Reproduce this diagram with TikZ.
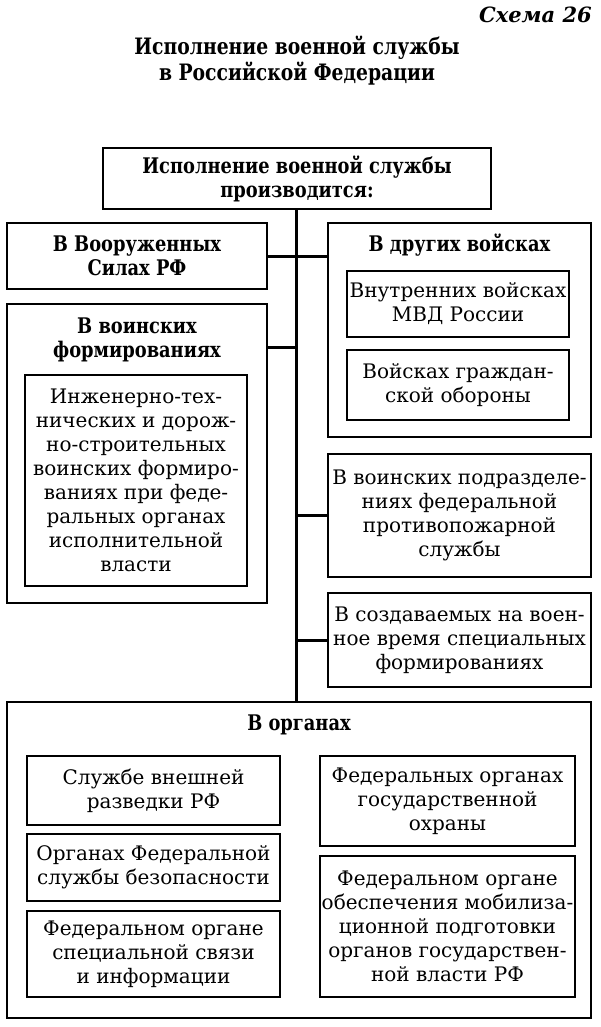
\documentclass[tikz,border=0pt]{standalone}
\usepackage{fontspec}
\setmainfont[BoldFeatures={FakeStretch=0.83}]{DejaVu Serif}
\begin{document}
\begin{tikzpicture}[x=1pt,y=-1pt,
  txt/.style={font=\fontsize{20}{24}\selectfont},
  btxt/.style={font=\fontsize{21.5}{24}\selectfont\bfseries},
  inbox/.style={draw, line width=1.3pt, inner sep=0pt, align=center, txt},
  outbox/.style={draw, line width=2pt, inner sep=0pt, align=center},
  head/.style={align=center, inner sep=0pt, btxt},
  link/.style={line width=3pt}]
\useasboundingbox (0,0) rectangle (600,1027);
% titles
\node[anchor=east, inner sep=0pt, font=\fontsize{21}{24}\selectfont\bfseries\itshape] (schema) at (592,15) {Схема 26};
\node[align=center, inner sep=0pt, font=\fontsize{22.6}{26}\selectfont\bfseries] (title) at (297,61) {Исполнение военной службы\\в Российской Федерации};
% top
\node[outbox, btxt, minimum width=388pt, minimum height=61pt] (top) at (297,178.5) {Исполнение военной службы\\производится:};
% left column
\node[outbox, btxt, minimum width=260pt, minimum height=66pt] (vs) at (137,256) {В Вооруженных\\Силах РФ};
\node[outbox, minimum width=260pt, minimum height=299pt] (vf) at (137,453.5) {};
\node[head] (vfh) at (137,340) {В воинских\\формированиях};
\node[inbox, minimum width=222pt, minimum height=211pt] (ing) at (136,480.5) {Инженерно-тех-\\нических и дорож-\\но-строительных\\воинских формиро-\\ваниях при феде-\\ральных органах\\исполнительной\\власти};
% right column
\node[outbox, minimum width=263pt, minimum height=214pt] (dr) at (459.5,330) {};
\node[head] (drh) at (459.5,245) {В других войсках};
\node[inbox, minimum width=222pt, minimum height=66pt] (mvd) at (458,304) {Внутренних войсках\\МВД России};
\node[inbox, minimum width=222pt, minimum height=70pt] (go) at (458,385) {Войсках граждан-\\ской обороны};
\node[outbox, txt, minimum width=263pt, minimum height=123pt] (pod) at (459.5,515.5) {В воинских подразделе-\\ниях федеральной\\противопожарной\\службы};
\node[outbox, txt, minimum width=263pt, minimum height=94pt] (soz) at (459.5,640) {В создаваемых на воен-\\ное время специальных\\формированиях};
% bottom
\node[outbox, minimum width=584pt, minimum height=316pt] (org) at (299,860) {};
\node[head] (orgh) at (299,725) {В органах};
\node[inbox, minimum width=253pt, minimum height=69pt] (svr) at (153.5,790.5) {Службе внешней\\разведки РФ};
\node[inbox, minimum width=253pt, minimum height=67pt] (fsb) at (153.5,867.5) {Органах Федеральной\\службы безопасности};
\node[inbox, minimum width=253pt, minimum height=86pt] (spec) at (153.5,954) {Федеральном органе\\специальной связи\\и информации};
\node[inbox, minimum width=255pt, minimum height=90pt] (fso) at (447.5,801) {Федеральных органах\\государственной\\охраны};
\node[inbox, minimum width=255pt, minimum height=141pt] (mob) at (447.5,926.5) {Федеральном органе\\обеспечения мобилиза-\\ционной подготовки\\органов государствен-\\ной власти РФ};
% connectors
\coordinate (tr) at (296,209);
\coordinate (vfc) at (267,347);
\draw[link] (tr) -- (tr |- org.north);
\draw[link] (vs.east) -- (vs.east -| dr.west);
\draw[link] (vfc) -- (vfc -| tr);
\draw[link] (pod.west) -- (pod.west -| tr);
\draw[link] (soz.west) -- (soz.west -| tr);
\end{tikzpicture}
\end{document}
